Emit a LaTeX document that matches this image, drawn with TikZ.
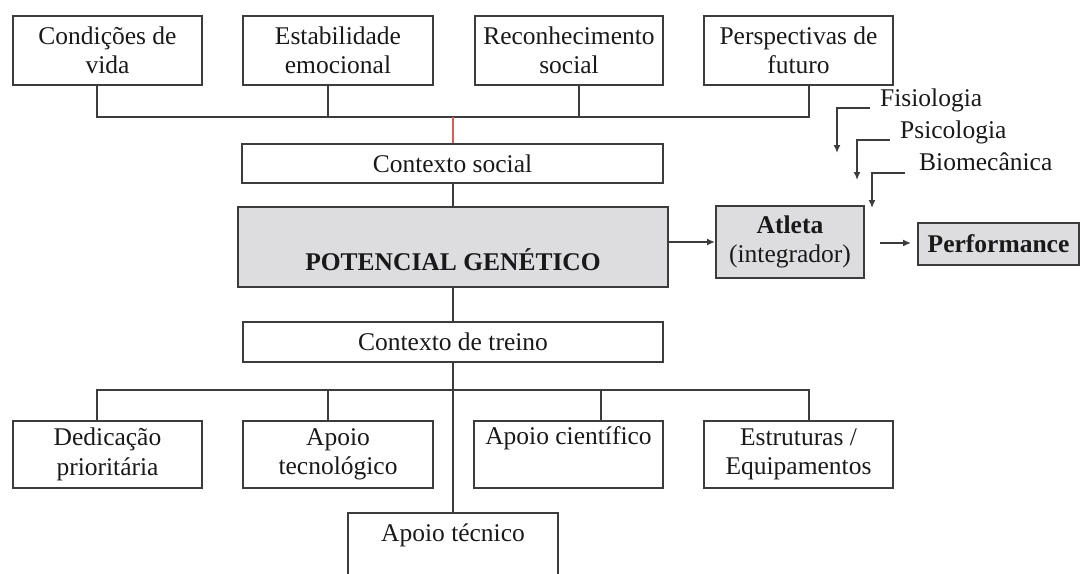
\documentclass[tikz,border=0pt]{standalone}
\usepackage{fontspec}
\setmainfont{Liberation Serif}
\usetikzlibrary{arrows.meta,calc}
\definecolor{ln}{RGB}{60,60,60}
\definecolor{tx}{RGB}{25,25,25}
\definecolor{bx}{RGB}{221,221,224}
\definecolor{rd}{RGB}{225,90,90}
\begin{document}
\begin{tikzpicture}[x=1pt,y=-1pt,
  every node/.style={font=\fontsize{25.5}{29.5}\selectfont, text=tx},
  box/.style={draw=ln, line width=1.9pt, inner sep=0pt, align=center},
  gbox/.style={box, fill=bx},
  conn/.style={draw=ln, line width=1.9pt},
  arr/.style={conn, -{Latex[length=8pt,width=7pt]}},
  lbl/.style={inner sep=0pt, anchor=west}]
\useasboundingbox (0,0) rectangle (1081,573);
% top boxes
\node[box, minimum width=189pt, minimum height=69pt] (c1) at (107.5,50.5) {Condições de\\vida};
\node[box, minimum width=190pt, minimum height=69pt] (c2) at (338,50.5) {Estabilidade\\emocional};
\node[box, minimum width=188pt, minimum height=69pt] (c3) at (569,50.5) {Reconhecimento\\social};
\node[box, minimum width=189pt, minimum height=69pt] (c4) at (798.5,50.5) {Perspectivas de\\futuro};
\coordinate (b1) at (97,117);
\coordinate (b2) at (328,117);
\coordinate (bm) at (453,117);
\coordinate (b3) at (579,117);
\coordinate (b4) at (809,117);
\draw[conn] (c1.south -| b1) -- (b1) -- (b4) -- (c4.south -| b4);
\draw[conn] (c2.south -| b2) -- (b2);
\draw[conn] (c3.south -| b3) -- (b3);
% contexto social
\node[box, minimum width=421pt, minimum height=39pt] (cs) at (452.5,163.5) {Contexto social};
\draw[draw=rd, line width=1.2pt] (bm) -- (cs.north -| bm);
% potencial
\node[gbox, minimum width=430pt, minimum height=80pt, text height=46pt, text depth=0pt, font=\fontsize{25.5}{29.5}\selectfont\bfseries] (pot) at (453,247) {POTENCIAL GENÉTICO};
\draw[conn] (cs.south -| bm) -- (pot.north -| bm);
% contexto de treino
\node[box, minimum width=420pt, minimum height=40pt] (ct) at (453,342) {Contexto de treino};
\draw[conn] (pot.south -| bm) -- (ct.north -| bm);
% bottom boxes
\node[box, minimum width=189pt, minimum height=67pt] (e1) at (107.5,454.5) {Dedicação\\prioritária};
\node[box, minimum width=190pt, minimum height=67pt] (e2) at (338,454.5) {Apoio\\tecnológico};
\node[box, minimum width=189pt, minimum height=67pt] (e3) at (568.5,454.5) {Apoio científico\\\strut};
\node[box, minimum width=189pt, minimum height=67pt] (e4) at (798.5,454.5) {Estruturas /\\Equipamentos};
\node[box, minimum width=210pt, minimum height=80pt, text height=17pt, text depth=39pt, anchor=north] (tec) at (453,512) {Apoio técnico};
\coordinate (d1) at (97,390);
\coordinate (d2) at (328,390);
\coordinate (d3) at (601,390);
\coordinate (d4) at (809,390);
\draw[conn] (e1.north -| d1) -- (d1) -- (d4) -- (e4.north -| d4);
\draw[conn] (d2) -- (e2.north -| d2);
\draw[conn] (d3) -- (e3.north -| d3);
\draw[conn] (ct.south -| bm) -- (tec.north -| bm);
% atleta and performance
\node[gbox, minimum width=148pt, minimum height=72pt] (at) at (790,242) {\textbf{Atleta}\\(integrador)};
\node[gbox, minimum width=161pt, minimum height=42pt, font=\fontsize{25.5}{29.5}\selectfont\bfseries] (pf) at (998.5,244) {Performance};
\draw[arr] (pot.east |- at.west) -- (at.west);
\coordinate (p1) at (880,243);
\coordinate (p2) at (911,243);
\draw[arr] (p1) -- (p2);
% influences
\node[lbl] (fis) at (880,100) {Fisiologia};
\node[lbl] (psi) at (900,132) {Psicologia};
\node[lbl] (bio) at (919,162) {Biomecânica};
\coordinate (f1) at (837,153);
\coordinate (s1) at (857,180);
\coordinate (m1) at (872,208);
\draw[arr] ([xshift=-10pt,yshift=-2pt]fis.base west) -| (f1);
\draw[arr] ([xshift=-10pt,yshift=-2pt]psi.base west) -| (s1);
\draw[arr] ([xshift=-14pt,yshift=-2pt]bio.base west) -| (m1);
\end{tikzpicture}
\end{document}
